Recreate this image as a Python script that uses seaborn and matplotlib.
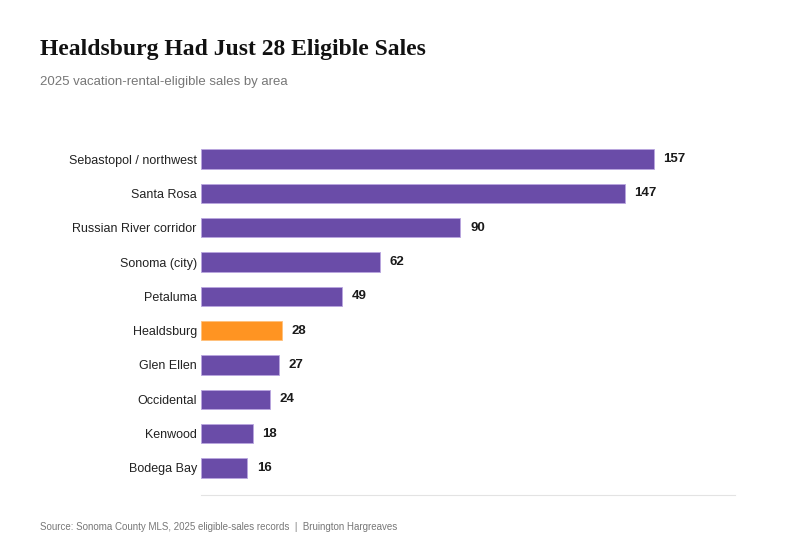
import pandas as pd
import seaborn as sns
import matplotlib.pyplot as plt

sns.set_theme(style="white")
plt.rcParams['font.family'] = ['Liberation Sans', 'DejaVu Sans']

areas = [
    "Sebastopol / northwest", "Santa Rosa", "Russian River corridor",
    "Sonoma (city)", "Petaluma", "Healdsburg", "Glen Ellen",
    "Occidental", "Kenwood", "Bodega Bay",
]
sales = [157, 147, 90, 62, 49, 28, 27, 24, 18, 16]
highlight = "Healdsburg"

PURPLE = "#6a4ca8"
ORANGE = "#ff9422"

df = pd.DataFrame({"area": areas, "sales": sales})
palette = {a: (ORANGE if a == highlight else PURPLE) for a in areas}

fig = plt.figure(figsize=(8, 5.5), dpi=100)
ax = fig.add_axes([0.25125, 0.10, 0.6675, 0.66])

sns.barplot(data=df, x="sales", y="area", hue="area", palette=palette,
            legend=False, width=0.56, saturation=1, ax=ax,
            edgecolor="#b9a6e0", linewidth=0.6)
# keep the highlighted bar's edge in its own tone
for patch, a in zip(ax.patches, areas):
    if a == highlight:
        patch.set_edgecolor("#ffc07a")

ax.set_xlim(0, max(sales) * 1.18)
ax.set_ylim(len(areas) - 0.21, -0.79)

for i, v in enumerate(sales):
    ax.annotate(str(v), xy=(v, i), xytext=(7, 0), textcoords="offset points",
                ha="left", va="center", fontsize=9.5, fontweight="bold",
                color="#1a1a1a")

ax.set_xlabel("")
ax.set_ylabel("")
ax.set_xticks([])
ax.tick_params(axis="y", length=0, pad=3, labelsize=9, labelcolor="#222222")
for side in ["top", "right", "left"]:
    ax.spines[side].set_visible(False)
ax.spines["bottom"].set_color("#e3e3e3")
ax.spines["bottom"].set_linewidth(0.8)

fig.text(0.05, 0.91, "Healdsburg Had Just 28 Eligible Sales",
         family=["Liberation Serif", "DejaVu Serif"], fontsize=17,
         fontweight="bold", color="#111111", va="center")
fig.text(0.05, 0.851, "2025 vacation-rental-eligible sales by area",
         fontsize=9.5, color="#777777", va="center")
fig.text(0.05, 0.042,
         "Source: Sonoma County MLS, 2025 eligible-sales records  |  Bruington Hargreaves",
         fontsize=7.05, color="#777777", va="center")

fig.savefig("out.png", dpi=100, facecolor="white")
